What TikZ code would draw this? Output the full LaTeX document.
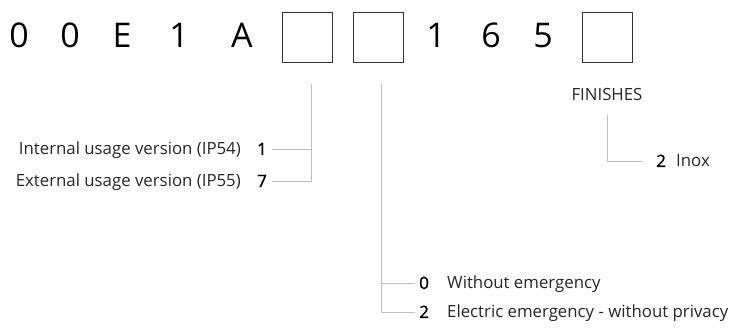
\documentclass[tikz,border=0pt]{standalone}
\usepackage{fontspec}
\setmainfont{Open Sans}
\newfontfamily\numfont[FakeBold=1.2]{Open Sans}
\begin{document}
\begin{tikzpicture}[x=1pt,y=-1pt,
  code/.style={font=\fontsize{34}{34}\selectfont, inner sep=0pt, anchor=base},
  codebox/.style={draw=black!80, line width=0.8pt, minimum width=50pt, minimum height=50pt, inner sep=0pt},
  lbl/.style={font=\fontsize{16.8}{17}\selectfont, inner sep=0pt, text=black!85},
  num/.style={font=\numfont\fontsize{17}{17}\selectfont, inner sep=0pt, text=black},
  conn/.style={draw=black!25, line width=0.9pt}]
\useasboundingbox (0,0) rectangle (740,331);
% top code row
\node[code] (c1) at (19,48) {0};
\node[code] (c2) at (70,48) {0};
\node[code] (c3) at (122,48) {E};
\node[code] (c4) at (179,48) {1};
\node[code] (c5) at (242,48) {A};
\node[codebox] (b1) at (307,37) {};
\node[codebox] (b2) at (378.5,37) {};
\node[code] (c6) at (436,48) {1};
\node[code] (c7) at (491,48) {6};
\node[code] (c8) at (543,48) {5};
\node[codebox] (b3) at (607,37) {};
% left group
\node[lbl, anchor=base east] (l1) at (241,155) {Internal usage version (IP54)};
\node[num, anchor=base west] (n1) at (257,155) {1};
\node[lbl, anchor=base east] (l7) at (241,187) {External usage version (IP55)};
\node[num, anchor=base west] (n7) at (257,187) {7};
\coordinate (t1) at (311,84);
\coordinate (h1) at (272,149);
\coordinate (h7) at (272,181);
\draw[conn] (t1) |- (h7);
\draw[conn] (h1) -- (h1 -| t1);
% middle group
\node[num, anchor=base west] (n0) at (419,289) {0};
\node[lbl, anchor=base west] (l0) at (447,289) {Without emergency};
\node[num, anchor=base west] (n2) at (419,318) {2};
\node[lbl, anchor=base west] (l2) at (447,318) {Electric emergency - without privacy};
\coordinate (t2) at (381,84);
\coordinate (h0) at (415,283);
\coordinate (h2) at (415,312);
\draw[conn] (t2) |- (h2);
\draw[conn] (h0) -- (h0 -| t2);
% finishes
\node[lbl, anchor=base] (fin) at (607,101) {FINISHES};
\node[num, anchor=base west] (n2b) at (656,167) {2};
\node[lbl, anchor=base west] (inox) at (676,167) {Inox};
\coordinate (t3) at (607,115);
\coordinate (h3) at (642,161);
\draw[conn] (t3) |- (h3);
\end{tikzpicture}
\end{document}
